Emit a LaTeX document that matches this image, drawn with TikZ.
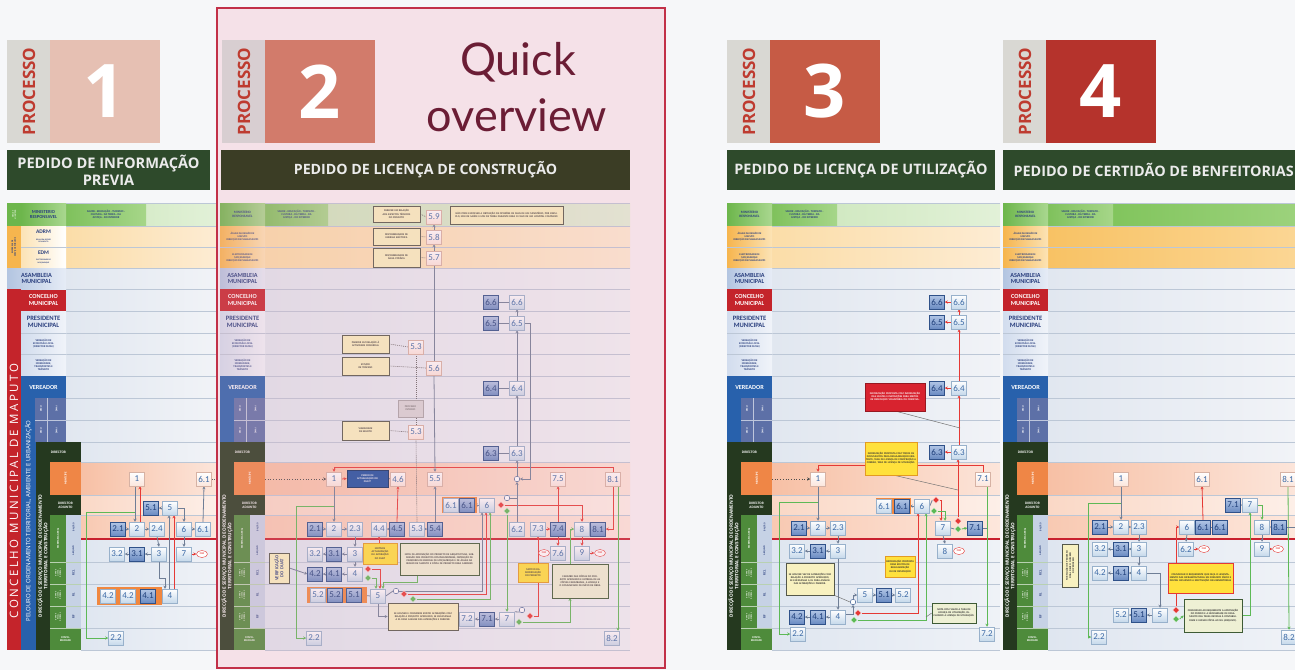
\documentclass[tikz,border=0pt]{standalone}
\usepackage{fontspec}
\setmainfont{Open Sans}
\newfontfamily\carl{Carlito}
\newfontfamily\gill{Lato}
\usetikzlibrary{calc,shapes.geometric,arrows.meta}
\pgfdeclarelayer{back}\pgfdeclarelayer{mid}\pgfsetlayers{back,mid,main}
\newcommand\fz[2]{\fontsize{#1}{#2}\selectfont}
\definecolor{bgc}{HTML}{F6F7F9}
\definecolor{procgray}{HTML}{D9D8D3}
\definecolor{procgrayB}{HTML}{D8CED1}
\definecolor{procred}{HTML}{BE3B30}
\definecolor{sqA}{HTML}{E6C0B3}
\definecolor{sqB}{HTML}{D27B6B}
\definecolor{sqC}{HTML}{C65B45}
\definecolor{sqD}{HTML}{B5332C}
\definecolor{tbar}{HTML}{2E4A2B}
\definecolor{tbarB}{HTML}{3B3D25}
\definecolor{navy}{HTML}{2A3F7E}
\definecolor{labga}{HTML}{6DB64C}
\definecolor{labgb}{HTML}{A9D78F}
\definecolor{mincella}{HTML}{7FC15C}
\definecolor{mincellb}{HTML}{A6D689}
\definecolor{minrowa}{HTML}{CBE6BA}
\definecolor{minrowb}{HTML}{E2F1D8}
\definecolor{minrowBa}{HTML}{78C052}
\definecolor{minrowBb}{HTML}{9CD27C}
\definecolor{orowa}{HTML}{FBDDA8}
\definecolor{orowb}{HTML}{FDECD3}
\definecolor{orowBa}{HTML}{F8C264}
\definecolor{orowBb}{HTML}{FBD694}
\definecolor{laboa}{HTML}{F6B54E}
\definecolor{labob}{HTML}{FCE3B5}
\definecolor{labba}{HTML}{B3C5E1}
\definecolor{labbb}{HTML}{E6ECF6}
\definecolor{labred}{HTML}{C4242B}
\definecolor{labpa}{HTML}{D2DDEE}
\definecolor{labpb}{HTML}{F0F3F9}
\definecolor{growa}{HTML}{E1E7F0}
\definecolor{growb}{HTML}{F1F3F7}
\definecolor{vblue}{HTML}{2861AC}
\definecolor{dmu}{HTML}{5D70A7}
\definecolor{dkgreen}{HTML}{25391F}
\definecolor{orng}{HTML}{EF8646}
\definecolor{mgreen}{HTML}{4E8B3B}
\definecolor{sublab}{HTML}{C6D2E5}
\definecolor{mrowa}{HTML}{F7C0A5}
\definecolor{mrowb}{HTML}{FCE5DA}
\definecolor{darowa}{HTML}{FAD8C6}
\definecolor{darowb}{HTML}{FDEFE8}
\definecolor{sgrowa}{HTML}{F8C9B2}
\definecolor{sgrowb}{HTML}{FDE7DC}
\definecolor{browa}{HTML}{DFE6F0}
\definecolor{browb}{HTML}{EFF2F7}
\definecolor{sepc}{HTML}{BCC7D6}
\definecolor{redline}{HTML}{C8202E}
\definecolor{edgeg}{HTML}{6F7E96}
\definecolor{edger}{HTML}{E53935}
\definecolor{edgegr}{HTML}{5DB956}
\definecolor{nbord}{HTML}{98B1CB}
\definecolor{nfill}{HTML}{C6D9EB}
\definecolor{ntext}{HTML}{3C6AA6}
\definecolor{ndtop}{HTML}{B2C6E6}
\definecolor{ndbot}{HTML}{6A8BC2}
\definecolor{ndbord}{HTML}{2F5189}
\definecolor{ndtext}{HTML}{1F3F7A}
\definecolor{nmfill}{HTML}{FBE6DD}
\definecolor{nmbord}{HTML}{D6B2A4}
\definecolor{yfill}{HTML}{F8F1C0}
\definecolor{ydraw}{HTML}{55584A}
\definecolor{ysfill}{HTML}{FFE13C}
\definecolor{ysdraw}{HTML}{E39B22}
\definecolor{gyfill}{HTML}{D8D4D6}
\definecolor{gydraw}{HTML}{A9A5A7}
\definecolor{blfill}{HTML}{1B4FA0}
\definecolor{nbfill}{HTML}{EEF0D4}
\definecolor{nbdraw}{HTML}{3E5B35}
\definecolor{rbfill}{HTML}{D8232F}
\definecolor{frame}{HTML}{C23048}
\definecolor{framefill}{HTML}{F9F1F4}
\definecolor{pinkt}{HTML}{E9A3B8}
\definecolor{qcol}{HTML}{6B1D35}
\definecolor{orgrp}{HTML}{F0873F}
\tikzset{
 stp/.style={draw=nbord, line width=0.5pt, top color=white, bottom color=nfill, minimum width=15pt, minimum height=14pt, inner sep=0.5pt, font=\carl\fz{9}{9}, text=ntext},
 stpd/.style={stp, top color=ndtop, bottom color=ndbot, draw=ndbord, text=ndtext},
 stpm/.style={stp, top color=white, bottom color=nmfill, draw=nmbord},
 fim/.style={ellipse, draw=edger, line width=0.4pt, fill=white, inner sep=0.2pt, minimum width=11pt, minimum height=7pt, font=\carl\bfseries\fz{2.6}{3}, text=edger},
 rdia/.style={diamond, fill=edger, draw=white, line width=0.3pt, inner sep=0pt, minimum size=7pt},
 gdia/.style={diamond, fill=edgegr, draw=white, line width=0.3pt, inner sep=0pt, minimum size=7pt},
 circ/.style={circle, draw=ndbord, line width=0.4pt, fill=white, inner sep=0pt, minimum size=5.5pt},
 gl/.style={draw=edgeg, line width=0.8pt, -{Stealth[length=3pt,width=3pt]}},
 gln/.style={draw=edgeg, line width=0.8pt},
 rl/.style={draw=edger, line width=0.8pt, -{Stealth[length=3pt,width=3pt]}},
 rln/.style={draw=edger, line width=0.8pt},
 grl/.style={draw=edgegr, line width=0.8pt, -{Stealth[length=3pt,width=3pt]}},
 dl/.style={draw=black!70, line width=0.7pt, dotted, -{Stealth[length=3pt,width=3pt]}},
 dln/.style={draw=black!60, line width=0.6pt, dash pattern=on 1pt off 1pt},
 annot/.style={draw=black!55, line width=0.5pt},
 bxs/.style={font=\carl\bfseries\fz{2.6}{3.1}, text=black!80, align=center, line width=0.6pt},
 ybox/.style={bxs, fill=yfill, draw=ydraw},
 ysbox/.style={bxs, fill=ysfill, draw=ysdraw, line width=0.9pt},
 rybox/.style={bxs, fill=ysfill, draw=edger, line width=0.9pt},
 gybox/.style={bxs, fill=gyfill, draw=gydraw, text=black!55},
 blbox/.style={bxs, fill=blfill, draw=blfill!60!black, text=white},
 nbox/.style={bxs, fill=nbfill, draw=nbdraw},
 rbox/.style={bxs, fill=rbfill, draw=rbfill!70!black, text=white},
 sepl/.style={draw=sepc, line width=0.5pt},
}
\newcommand\lb[7]{\path[#5] (#1,#2) rectangle (#3,#4);
 \node[align=center, inner sep=0pt, #6] at ({(#1+#3)/2},{(#2+#4)/2}) {#7};}
\newcommand\bx[7]{\pgfmathsetmacro\bxw{#4-#2-2}\pgfmathsetmacro\bxh{#5-#3}%
 \node[#6, text width=\bxw pt, minimum height=\bxh pt, inner sep=1pt] (#1) at ({(#2+#4)/2},{(#3+#5)/2}) {#7};}
\newcommand\proc[4]{%
 \fill[#4] (#1,40) rectangle (#1+43,143);
 \node[rotate=90,font=\bfseries\fz{17}{17},text=procred] at (#1+22,91.5) {PROCESSO};
 \fill[#3] (#1+43,40) rectangle (#1+153,143);
 \node[font=\bfseries\fz{74}{74},text=white] at (#1+98,91.5) {#2};}
\newcommand\tbar[6]{\fill[#3] (#1,150) rectangle (#2,190);
 \node[font=\bfseries\fz{#4}{#5},text=white!92!black,align=center] at ({(#1+#2)/2},170) {#6};}
\newcommand\mcell[2]{\lb{#1}{204}{#2}{225}{left color=mincella,right color=mincellb}{font=\carl\bfseries\fz{2.8}{3.3},text=navy}{SAUDE - EDUCAÇÃO - TURISMO -\\CULTURA - DA TERRA - DA\\JUSTIÇA - DO INTERIOR}}
\newcommand\plotbg[4]{%
 \ifnum#4=1
  \path[left color=minrowBa,right color=minrowBb] (#1,203) rectangle (#3,226);
  \path[left color=orowBa,right color=orowBb] (#1,226) rectangle (#3,268);
 \else
  \path[left color=minrowa,right color=minrowb] (#1,203) rectangle (#3,226);
  \path[left color=orowa,right color=orowb] (#1,226) rectangle (#3,268);
 \fi
 \path[left color=growa,right color=growb] (#1,268) rectangle (#3,442);
 \path[left color=growa,right color=growb] (#2,442) rectangle (#3,462);
 \path[left color=mrowa,right color=mrowb] (#2,462) rectangle (#3,495);
 \path[left color=darowa,right color=darowb] (#2,495) rectangle (#3,515);
 \path[left color=sgrowa,right color=sgrowb] (#2,515) rectangle (#3,539);
 \path[left color=browa,right color=browb] (#2,539) rectangle (#3,650);
 \foreach \yy in {203,226,247,268,289,311,333,354,376,398,420}{\draw[sepl] (#1,\yy) -- (#3,\yy);}
 \foreach \yy in {442,462,495,515,562,584,606,628,650}{\draw[sepl] (#2,\yy) -- (#3,\yy);}
 \draw[redline,line width=1.6pt] (#2-15,539) -- (#3,539);}
\newcommand\toplab[2]{%
 \ifnum#2=0
 \lb{#1}{203}{#1+45}{226}{left color=labga,right color=labgb}{font=\carl\bfseries\fz{3.4}{4},text=navy}{MINISTERIO\\RESPONSAVEL}
 \lb{#1}{226}{#1+45}{247}{left color=laboa,right color=labob}{font=\carl\bfseries\fz{2.6}{3},text=navy}{ÁGUAS DA REGIÃO DE\\MAPUTO\\DIRECÇÃO DE PLANEAMENTO}
 \lb{#1}{247}{#1+45}{268}{left color=laboa,right color=labob}{font=\carl\bfseries\fz{2.6}{3},text=navy}{ELECTRICIDADE DE\\MOÇAMBIQUE\\DIRECÇÃO DE PLANEAMENTO}
 \lb{#1}{268}{#1+45}{289}{left color=labba,right color=labbb}{font=\carl\bfseries\fz{6.2}{6.8},text=navy}{ASAMBLEIA\\MUNICIPAL}
 \draw[sepl] (#1,247) -- (#1+45,247);
 \fi
 \lb{#1}{289}{#1+45}{311}{fill=labred}{font=\carl\bfseries\fz{6.2}{6.8},text=white}{CONCELHO\\MUNICIPAL}
 \lb{#1}{311}{#1+45}{333}{left color=labpa,right color=labpb}{font=\carl\bfseries\fz{6.6}{7.2},text=navy}{PRESIDENTE\\MUNICIPAL}
 \lb{#1}{333}{#1+45}{354}{left color=labpa,right color=labpb}{font=\carl\bfseries\fz{2.7}{3.2},text=navy}{VEREAÇÃO DE\\ECONOMIA LOCAL\\(DIRECTOR DMAE)}
 \lb{#1}{354}{#1+45}{376}{left color=labpa,right color=labpb}{font=\carl\bfseries\fz{2.7}{3.2},text=navy}{VEREAÇÃO DE\\MOBILIDADE,\\TRANSPORTES E\\TRÂNSITO}
 \foreach \yy in {333,354}{\draw[sepl] (#1,\yy) -- (#1+45,\yy);}}
\newcommand\midlab[1]{%
 \lb{#1}{376}{#1+45}{398}{fill=vblue}{font=\carl\bfseries\fz{6.2}{6.8},text=white}{VEREADOR}
 \fill[vblue] (#1,398) rectangle (#1+14,442);
 \fill[dmu] (#1+14,398) rectangle (#1+45,442);
 \draw[white!60!dmu,line width=0.4pt] (#1+14,420) -- (#1+45,420) (#1+26,398) -- (#1+26,442);
 \node[rotate=90,font=\carl\bfseries\fz{2.6}{3},text=white] at (#1+20,409) {DMU};
 \node[rotate=90,font=\carl\bfseries\fz{2.6}{3},text=white] at (#1+20,431) {DMU};
 \node[rotate=90,font=\carl\bfseries\fz{2.4}{2.8},text=white] at (#1+35.5,409) {DMAI};
 \node[rotate=90,font=\carl\bfseries\fz{2.4}{2.8},text=white] at (#1+35.5,431) {DMAI};}
\newcommand\botlab[1]{%
 \lb{#1}{442}{#1+45}{462}{fill=dkgreen}{font=\carl\bfseries\fz{3.6}{4},text=white}{DIRECTOR}
 \fill[dkgreen] (#1,462) rectangle (#1+14,650);
 \node[rotate=90,align=center,font=\bfseries\fz{4.6}{5.4},text=white] at (#1+7,556) {DIRECÇÃO DE SERVIÇO MUNICIPAL DE ORDENAMENTO\\TERRITORIAL E CONSTRUÇÃO};
 \lb{#1+14}{462}{#1+45}{495}{fill=orng}{rotate=90,font=\carl\bfseries\fz{3}{3.4},text=white}{MUNÍCIPE}
 \lb{#1+14}{495}{#1+45}{515}{fill=dkgreen}{font=\carl\bfseries\fz{3.5}{4},text=white}{DIRECTOR\\ADJUNTO}
 \lb{#1+14}{515}{#1+30}{562}{fill=mgreen}{rotate=90,font=\carl\bfseries\fz{2.6}{3},text=white}{SECRETARIA GERAL}
 \lb{#1+30}{515}{#1+45}{539}{fill=sublab}{rotate=90,font=\carl\bfseries\fz{2.4}{2.8},text=navy}{BALCÃO}
 \lb{#1+30}{539}{#1+45}{562}{fill=sublab}{rotate=90,font=\carl\bfseries\fz{2.4}{2.8},text=navy}{ARQUIVO}
 \lb{#1+14}{562}{#1+30}{584}{fill=mgreen}{rotate=90,font=\carl\bfseries\fz{1.9}{2.2},text=white}{DEP. DE\\LICENC.\\DE OBRAS}
 \lb{#1+14}{584}{#1+30}{606}{fill=mgreen}{rotate=90,font=\carl\bfseries\fz{1.9}{2.2},text=white}{DEP. DE\\LICENC.\\DE OBRAS}
 \lb{#1+14}{606}{#1+30}{628}{fill=mgreen}{rotate=90,font=\carl\bfseries\fz{1.9}{2.2},text=white}{DEP. DE\\FISCAL.\\DE OBRAS}
 \lb{#1+30}{562}{#1+45}{584}{fill=sublab}{rotate=90,font=\carl\bfseries\fz{3.4}{3.8},text=navy}{RCL}
 \lb{#1+30}{584}{#1+45}{606}{fill=sublab}{rotate=90,font=\carl\bfseries\fz{3.4}{3.8},text=navy}{RL}
 \lb{#1+30}{606}{#1+45}{628}{fill=sublab}{rotate=90,font=\carl\bfseries\fz{3.4}{3.8},text=navy}{RF}
 \lb{#1+14}{628}{#1+45}{650}{fill=mgreen}{font=\carl\bfseries\fz{2.8}{3.2},text=white}{CONTA-\\BILIDADE}
 \draw[white!60!mgreen,line width=0.4pt] (#1+14,562) -- (#1+45,562) (#1+14,584) -- (#1+45,584) (#1+14,606) -- (#1+45,606) (#1+14,628) -- (#1+45,628);}
\begin{document}
\begin{tikzpicture}[x=1pt,y=-1pt]
\useasboundingbox (0,0) rectangle (1295,670);
\begin{pgfonlayer}{back}
\fill[bgc] (0,0) rectangle (1295,670);
\fill[framefill] (217,8) rectangle (665,668);
% ---------- panel 1 background ----------
\plotbg{66}{81}{216}{0}
\mcell{66}{146}
\toplab{21}{1}
\midlab{21}
\botlab{36}
\lb{7}{203}{21}{226}{fill=labga}{rotate=90,font=\carl\bfseries\fz{1.8}{2.1},text=white}{NÍVEL DE\\MINISTÉRIO}
\lb{7}{226}{21}{268}{fill=laboa}{rotate=90,font=\carl\bfseries\fz{2.3}{2.7},text=navy}{EMPRESAS DE\\SERVIÇOS PÚBLICOS}
\lb{21}{203}{66}{226}{left color=labga,right color=labgb}{font=\carl\bfseries\fz{4.6}{5.2},text=navy}{MINISTERIO\\RESPONSAVEL}
\path[left color=labob,right color=white] (21,226) rectangle (66,268);
\node[font=\carl\bfseries\fz{5.5}{6},text=navy] at (43.5,232) {ADRM};
\node[font=\carl\bfseries\fz{1.9}{2.2},text=navy,align=center] at (43.5,240.5) {ÁGUAS DA REGIÃO\\DE MAPUTO};
\node[font=\carl\bfseries\fz{5.5}{6},text=navy] at (43.5,253) {EDM};
\node[font=\carl\bfseries\fz{1.9}{2.2},text=navy,align=center] at (43.5,261.5) {ELECTRICIDADE DE\\MOÇAMBIQUE};
\draw[sepl] (21,247) -- (66,247);
\lb{7}{268}{66}{289}{left color=labba,right color=labbb}{font=\carl\bfseries\fz{6.3}{6.9},text=navy}{ASAMBLEIA\\MUNICIPAL}
\fill[labred] (7,289) rectangle (21,650);
\node[rotate=90,font={\fz{11.5}{11.5}\addfontfeature{LetterSpace=22}},text=white] at (14,491) {CONCELHO MUNICIPAL DE MAPUTO};
\fill[vblue] (21,442) rectangle (36,650);
\node[rotate=90,font=\fz{6}{6},text=white] at (28.5,521) {PELOURO DE ORDENAMENTO TERRITORIAL, AMBIENTE E URBANIZAÇÃO};
% ---------- panel 2 background ----------
\plotbg{265}{265}{630}{0}
\mcell{265}{328}
\toplab{220}{0}
\midlab{220}
\botlab{220}
% ---------- panel 3 background ----------
\plotbg{772}{772}{1000}{0}
\mcell{772}{837}
\toplab{727}{0}
\midlab{727}
\botlab{727}
% ---------- panel 4 background ----------
\plotbg{1048}{1048}{1295}{1}
\mcell{1048}{1113}
\toplab{1003}{0}
\midlab{1003}
\botlab{1003}
\end{pgfonlayer}
% ---------- headers ----------
\proc{7}{1}{sqA}{procgray}
\proc{727}{3}{sqC}{procgray}
\proc{1003}{4}{sqD}{procgray}
\tbar{7}{210}{tbar}{14.6}{17}{PEDIDO DE INFORMAÇÃO\\PREVIA}
\tbar{727}{995}{tbar}{14.4}{16}{PEDIDO DE LICENÇA DE UTILIZAÇÃO}
\fill[tbar] (1003,150) rectangle (1295,190);
\node[font=\bfseries\fz{14.4}{16},text=white!92!black,anchor=west] at (1010,170) {PEDIDO DE CERTIDÃO DE BENFEITORIAS};
% ================= PANEL 1 =================
\fill[orgrp] (97,587) rectangle (162,605);
\node[stpm] (a1) at (137,479) {1};
\node[stpm] (a61t) at (204,479) {6.1};
\node[stpd] (a51) at (151,508) {5.1};
\node[stp] (a5) at (170,508) {5};
\node[stpd] (a21) at (118,529) {2.1};
\node[stp] (a2) at (137,529) {2};
\node[stp] (a24) at (157,529) {2.4};
\node[stp] (a6) at (184,529) {6};
\node[stp] (a61) at (203,529) {6.1};
\node[stp] (a32) at (117,554) {3.2};
\node[stpd] (a31) at (137,554) {3.1};
\node[stp] (a3) at (159,554) {3};
\node[stp] (a7) at (184,554) {7};
\node[fim] (afim) at (202,554) {FIM};
\node[stp] (a42a) at (108,596) {4.2};
\node[stp] (a42) at (128,596) {4.2};
\node[stpd] (a41) at (148,596) {4.1};
\node[stp] (a4) at (170,596) {4};
\node[stp] (a22) at (116,638) {2.2};
\begin{pgfonlayer}{mid}
\draw[gl] ([xshift=-2pt]a1.south) -- ([xshift=-2pt]a2.north);
\draw[rl] ([xshift=3pt]a2.north) -- ([xshift=3pt]a1.south);
\draw[gl] (a21.east) -- (a2.west);
\draw[gl] (a2.east) -- (a24.west);
\draw[gl] (a24.south) -- (a3.north);
\draw[gl] (a3.west) -- (a31.east);
\draw[gl] (a31.west) -- (a32.east);
\draw[gl] (a3.south) -- (159,578) -| ([xshift=-5pt]a4.north);
\draw[gl] (a4.west) -- (a41.east);
\draw[gl] (a41.west) -- (a42.east);
\draw[gl] ([xshift=-1pt]a4.north) -- ([xshift=-1pt]a5.south);
\draw[rl] ([xshift=4pt]a4.north) -- ([xshift=4pt]a5.south);
\draw[gl] (a5.west) -- (a51.east);
\draw[gl] (a5.east) -| (a6.north);
\draw[gl] (a6.east) -- (a61.west);
\draw[gl] (a61.north) -- (a61t.south);
\draw[gl] (a6.south) -- (a7.north);
\draw[rl] (a7.east) -- (afim.west);
\draw[grl] (135,512) -- (86,512) |- (a22.west);
\draw[dln] (a61t.east) -- (216,479);
\end{pgfonlayer}
% ================= PANEL 2 =================
\bx{bt1}{373}{206}{420}{222}{ybox}{PARECER EM RELAÇÃO\\AOS ASPECTOS TÉCNICOS\\DO PROJECTO}
\bx{bt2}{450}{206}{563}{224}{ybox}{NÃO PODE ENVOLVER A OBTENÇÃO DE OPINIÕES DE MAIS DE UM MINISTÉRIO, POR EXEMPLO, MIN DE SAÚDE E MIN DE TERRA DURANTE PARA O CASO DE UM HOSPITAL COMPLEXO}
\bx{bt3}{373}{228}{420}{245}{ybox}{DISPONIBILIDADE DE\\ENERGIA ELÉCTRICA}
\bx{bt4}{373}{248}{420}{267}{ybox}{DISPONIBILIDADE DE\\ÁGUA POTÁVEL}
\bx{bt5}{342}{335}{389}{353}{ybox}{PARECER EM RELAÇÃO À\\ACTIVIDADE COMERCIAL}
\bx{bt6}{342}{357}{389}{375}{ybox}{ESTUDO\\DE TRÁFEGO}
\bx{bt7}{398}{400}{423}{417}{gybox}{PROCESSO\\INTERNO}
\bx{bt8}{342}{421}{389}{440}{ybox}{VIABILIDADE\\DE ESGOTO}
\node[stpm] (b59) at (434,217) {5.9};
\node[stpm] (b58) at (434,237) {5.8};
\node[stpm] (b57) at (434,258) {5.7};
\node[stpd] (b66d) at (491,302) {6.6};
\node[stp] (b66) at (517,302) {6.6};
\node[stpd] (b65d) at (491,323) {6.5};
\node[stp] (b65) at (517,323) {6.5};
\node[stpm] (b53a) at (416,347) {5.3};
\node[stpm] (b56) at (434,368) {5.6};
\node[stpd] (b64d) at (491,388) {6.4};
\node[stp] (b64) at (517,388) {6.4};
\node[stpm] (b53b) at (416,432) {5.3};
\node[stpd] (b63d) at (491,453) {6.3};
\node[stp] (b63) at (517,453) {6.3};
\node[stpm] (b1) at (334,479) {1};
\bx{bbl}{347}{470}{388}{487}{blbox}{PEDIDO DE\\ACTUALIZAÇÃO DO\\DUAT?}
\node[stpm] (b46) at (398,479) {4.6};
\node[stpm] (b55) at (435,479) {5.5};
\node[circ] (bc1) at (517,479) {};
\node[stpm] (b75) at (558,479) {7.5};
\node[stpm] (b81t) at (613,479) {8.1};
\fill[orgrp] (442,497) rectangle (477,513);
\node[stp] (b61a) at (451,505) {6.1};
\node[stpd] (b61) at (467,505) {6.1};
\node[stp] (b6) at (487,505) {6};
\node[circ] (bc2) at (507,498) {};
\node[rdia] (br1) at (501,505) {};
\node[gdia] (bg1) at (507,511) {};
\node[stpd] (b21) at (315,529) {2.1};
\node[stp] (b2) at (334,529) {2};
\node[stp] (b23) at (355,529) {2.3};
\node[stp] (b44) at (379,529) {4.4};
\node[stpd] (b45) at (397,529) {4.5};
\node[stp] (b53) at (417,529) {5.3};
\node[stpd] (b54) at (435,529) {5.4};
\node[stp] (b62) at (517,529) {6.2};
\node[stp] (b73) at (538,529) {7.3};
\node[stpd] (b74) at (558,529) {7.4};
\node[stp] (b8) at (582,529) {8};
\node[stpd] (b81) at (598,529) {8.1};
\node[stp] (b32) at (315,554) {3.2};
\node[stpd] (b31) at (334,554) {3.1};
\node[stp] (b3) at (355,554) {3};
\bx{bmot}{363}{543}{397}{564}{ysbox}{MOTIVOS\\ACTUALIZAÇÃO\\OU ALTERAÇÃO\\DO DUAT}
\bx{bnota}{400}{543}{479}{575}{nbox}{NOTA DE APROVAÇÃO DO PROJECTO DE ARQUITECTURA, SUBMISSÃO DOS PROJECTOS COMPLEMENTARES, OBTENÇÃO DE PARECERES DE ENERGIA DE MOÇAMBIQUE E DE ÁGUAS DA REGIÃO DE MAPUTO E CÓPIA DE PROJECTO PARA CARIMBO}
\node[fim] (bfim1) at (544,553) {FIM};
\node[stp] (b76) at (558,553) {7.6};
\node[stp] (b9) at (582,553) {9};
\node[fim] (bfim2) at (600,553) {FIM};
\node[ybox, rotate=90, minimum width=30pt, minimum height=20pt, text width=28pt, inner sep=1pt, font=\carl\bfseries\fz{4.6}{5.2}, text=navy] (bver) at (279,568) {VERIFICAÇÃO\\DO DUAT};
\node[stpd] (b42) at (315,574) {4.2};
\node[stpd] (b41) at (334,574) {4.1};
\node[stp] (b4) at (355,574) {4};
\node[rdia] (br2) at (368,569) {};
\node[gdia] (bg2) at (368,578) {};
\bx{bmod}{518}{563}{548}{582}{ysbox}{MOTIVO DA\\MODIFICAÇÃO\\DO PROJECTO}
\bx{bcar}{552}{564}{608}{598}{nbox}{CARIMBO DAS CÓPIAS DO PROJECTO APROVADO E ENTREGA DE AS CÓPIAS CARIMBADAS, A LICENÇA E O COMUNICADO DE INÍCIO DE OBRA}
\fill[orgrp] (307,587) rectangle (367,603);
\node[stp] (b52a) at (318,595) {5.2};
\node[stpd] (b52) at (335,595) {5.2};
\node[stpd] (b51) at (354,595) {5.1};
\node[stp] (b5) at (378,596) {5};
\node[circ] (bc3) at (396,591) {};
\node[rdia] (br3) at (404,594) {};
\node[gdia] (bg3) at (413,599) {};
\bx{bse}{388}{603}{458}{630}{ybox}{SE HOUVER E CONSIDERE EXISTIR ALTERAÇÕES COM RELAÇÃO A PROJECTO APROVADO, SE ENCAMINHA A RL PARA ANÁLISE DAS ALTERAÇÕES E PARECER.}
\node[stp] (b72) at (467,619) {7.2};
\node[stpd] (b71) at (487,619) {7.1};
\node[stp] (b7) at (507,619) {7};
\node[circ] (bc4) at (522,610) {};
\node[rdia] (br4) at (530,616) {};
\node[gdia] (bg4) at (519,622) {};
\node[stp] (b22) at (314,638) {2.2};
\node[stp] (b82) at (612,638) {8.2};
\begin{pgfonlayer}{mid}
\draw[dl] (265,479) -- (b1.west);
\draw[rl] (b81t.north) -- (613,467) -| (b1.north);
\draw[rl] (b1.east) -- (bbl.west);
\draw[gl] (bbl.east) -- (b46.west);
\draw[gl] (b1.south) -- (b2.north);
\draw[grl] (334,506) -- (296,506) |- (b22.west);
\draw[gl] (b21.east) -- (b2.west);
\draw[gl] (b2.east) -- (b23.west);
\draw[gl] (b23.south) -- (b3.north);
\draw[gl] (b3.west) -- (b31.east);
\draw[gl] (b31.west) -- (b32.east);
\draw[gl] (b3.south) -- (b4.north);
\draw[gl] (b4.west) -- (b41.east);
\draw[gl] (b41.west) -- (b42.east);
\draw[gl] (bver.south) -- (b42.west);
\draw[rl] (br2.east) -| ([xshift=2pt]b5.north);
\draw[grl] (bg2.east) -| ([xshift=-2pt]b5.north);
\draw[rln] (br2.north) -- (368,564);
\draw[rl] (379,543) -- (b44.south);
\draw[gl] (b45.west) -- (b44.east);
\draw[rl] (b45.north) -- (b46.south);
\draw[gl] (b53.east) -- (b54.west);
\draw[gl] (b54.north) -- (b55.south);
\draw[gl] (b56.south) -- (b55.north);
\draw[gln] (b57.south) -- (b56.north);
\draw[gl] (b57.north) -- (b58.south);
\draw[gl] (b58.north) -- (b59.south);
\draw[dln] (bt1.east) -- (b59.west);
\draw[dln] (bt3.east) -- (b58.west);
\draw[dln] (bt4.east) -- (b57.west);
\draw[dln] (bt5.east) -- (b53a.west);
\draw[dln] (bt6.east) -- (b56.west);
\draw[dln] (bt8.east) -- (b53b.west);
\draw[dln] (b53a.south) -- (b53b.north);
\draw[dln] (b53b.south) -- (b53.north);
\draw[gl] (b5.west) -- (b51.east);
\draw[gl] (b51.west) -- (b52.east);
\draw[gl] (b52.west) -- (b52a.east);
\draw[gln] (b5.east) -- (bc3.west);
\draw[gl] (bc3.east) -| ([xshift=-5pt]b6.south);
\draw[rl] (br3.east) -| ([xshift=-1pt]b6.south);
\draw[grl] (bg3.east) -| ([xshift=3pt]b6.south);
\draw[gl] (b6.west) -- (b61.east);
\draw[gln] (b61.west) -- (b61a.east);
\draw[rl] (br1.east) -| (b8.north);
\draw[grl] (bg1.south) -- (bg1.south |- b7.north);
\draw[gln] (bc2.east) -- (517,498);
\draw[gl] (b62.north) -- (bc1.south);
\draw[gl] (bc1.north) -- (b63.south);
\draw[gl] (b63.north) -- (b64.south);
\draw[gl] (b64.north) -- (b65.south);
\draw[gl] (b65.north) -- (b66.south);
\draw[gl] (b65.east) -| (530,479) -- (bc1.east);
\draw[gln] (b66d.east) -- (b66.west);
\draw[gln] (b65d.east) -- (b65.west);
\draw[gln] (b64d.east) -- (b64.west);
\draw[gln] (b63d.east) -- (b63.west);
\draw[rl] (br4.east) -| (b73.south);
\draw[rl] (b73.east) -- (b74.west);
\draw[rl] (b74.north) -- (b75.south);
\draw[rl] (b74.south) -- (b76.north);
\draw[rl] (b76.west) -- (bfim1.east);
\draw[rl] (b8.east) -- (b81.west);
\draw[rl] (b81t.south) |- (b81.east);
\draw[grl] ([xshift=5pt]b81t.south) -- ([xshift=6pt]b82.north);
\draw[rl] (b8.south) -- (b9.north);
\draw[rl] (b9.east) -- (bfim2.west);
\draw[grl] (bg4.east) -| (570,598);
\draw[grl] (570,564) |- (b8.west);
\draw[gl] (b7.west) -- (b71.east);
\draw[gl] (b71.west) -- (b72.east);
\draw[gln] (b7.north east) -- (bc4.south west);
\draw[gl] (b5.south) |- (bse.west);
\draw[grl] (417,575) -- (417,582) -| ([xshift=5pt]b5.north);
\end{pgfonlayer}
% pink tint of panel 2, then its header in its own colours
\fill[pinkt, opacity=0.2] (217,8) rectangle (665,668);
\draw[frame, line width=1.2pt] (217,8) rectangle (665,668);
\proc{222}{2}{sqB}{procgrayB}
\tbar{221}{630}{tbarB}{14.2}{16}{PEDIDO DE LICENÇA DE CONSTRUÇÃO}
\node[anchor=base, font=\gill\fz{45}{45}, text=qcol] at (518,75) {Quick};
\node[anchor=base, font=\gill\fz{45}{45}, text=qcol] at (517,131) {overview};
% ================= PANEL 3 =================
\node[stpd] (c66d) at (937,302) {6.6};
\node[stp] (c66) at (959,302) {6.6};
\node[stpd] (c65d) at (937,322) {6.5};
\node[stp] (c65) at (959,322) {6.5};
\node[stpd] (c64d) at (937,388) {6.4};
\node[stp] (c64) at (959,388) {6.4};
\bx{crb}{865}{383}{925}{411}{rbox}{INFORMAÇÃO PROPOSTA COM INFORMAÇÃO DAS MULTAS E INSTRUÇÕES PARA EFEITOS DE DEMOLIÇÃO VOLUNTÁRIA OU COERCIVA.}
\node[stpd] (c63d) at (937,452) {6.3};
\node[stp] (c63) at (959,452) {6.3};
\bx{cyb}{865}{442}{917}{475}{ysbox}{INFORMAÇÃO PROPOSTA COM TODOS OS DOCUMENTOS PARA REGULARIZAÇÃO EXISTENTE, TAXA DE LICENÇA DE CONSTRUÇÃO A COBRAR, TAXA DE LICENÇA DE UTILIZAÇÃO.}
\node[stpm] (c1) at (818,479) {1};
\node[stpm] (c71t) at (983,479) {7.1};
\fill[orgrp] (876,498) rectangle (911,514);
\node[stp] (c61a) at (884,506) {6.1};
\node[stpd] (c61) at (902,506) {6.1};
\node[stp] (c6) at (922,506) {6};
\node[rdia] (cr1) at (936,500) {};
\node[gdia] (cg1) at (934,511) {};
\node[stpd] (c21) at (799,528) {2.1};
\node[stp] (c2) at (818,528) {2};
\node[stp] (c23) at (838,528) {2.3};
\node[stp] (c7) at (943,528) {7};
\node[rdia] (cr2) at (958,521) {};
\node[gdia] (cg2) at (958,529) {};
\node[stpd] (c71) at (975,528) {7.1};
\node[stp] (c32) at (797,551) {3.2};
\node[stpd] (c31) at (818,551) {3.1};
\node[stp] (c3) at (838,551) {3};
\node[stp] (c8) at (945,551) {8};
\node[fim] (cfim) at (959,551) {FIM};
\bx{cyb2}{885}{556}{915}{577}{ysbox}{INFORMAÇÃO PROPOSTA PARA EFEITOS DE REGULARIZAÇÃO OU DE DEMOLIÇÃO}
\bx{cse}{786}{563}{834}{595}{ybox}{SE HOUVER VEZ DE ALTERAÇÕES COM RELAÇÃO A PROJECTO APROVADO, SE ENCAMINHA A RL PARA ANÁLISE DAS ALTERAÇÕES E PARECER.}
\node[circ] (cc1) at (853,602) {};
\node[stp] (c5) at (865,595) {5};
\node[stpd] (c51) at (884,595) {5.1};
\node[stp] (c52) at (903,595) {5.2};
\node[stpd] (c42) at (797,617) {4.2};
\node[stpd] (c41) at (818,617) {4.1};
\node[stp] (c4) at (838,617) {4};
\node[rdia] (cr3) at (858,613) {};
\node[gdia] (cg3) at (854,620) {};
\bx{cnota}{932}{603}{976}{623}{nbox}{NOTA COM VALOR A TAXA DE LICENÇA DE UTILIZAÇÃO, INCLUINDO A LICENÇA DE UTILIZAÇÃO.}
\node[stp] (c22) at (798,634) {2.2};
\node[stp] (c72) at (987,634) {7.2};
\begin{pgfonlayer}{mid}
\draw[dl] (772,479) -- (c1.west);
\draw[rl] (c71t.north) -- (983,465) -| (c1.north);
\draw[gl] (c1.south) -- (c2.north);
\draw[grl] (818,502) -- (779,502) |- (c22.west);
\draw[gl] (c21.east) -- (c2.west);
\draw[gl] (c2.east) -- (c23.west);
\draw[gl] (c23.south) -- (c3.north);
\draw[gl] (c3.west) -- (c31.east);
\draw[gl] (c31.west) -- (c32.east);
\draw[gl] (c3.south) -- (c4.north);
\draw[gl] (c4.west) -- (c41.east);
\draw[gl] (c41.west) -- (c42.east);
\draw[gl] ([yshift=3pt]c4.east) -| (cc1.south);
\draw[gl] (cc1.north) |- (c5.west);
\draw[gl] (c5.east) -- (c51.west);
\draw[gl] (c51.east) -- (c52.west);
\draw[rl] (cr3.east) -| ([xshift=-4pt]c6.south);
\draw[grl] (cg3.east) -| ([xshift=4pt]c6.south);
\draw[gl] (c6.west) -- (c61.east);
\draw[gln] (c61.west) -- (c61a.east);
\draw[gln] (c6.east) -- (cr1.west);
\draw[rl] (cr1.east) -| ([xshift=-2pt]c7.north);
\draw[grl] (cg1.east) -| ([xshift=2pt]c7.north);
\draw[gln] (c7.east) -- (cg2.west);
\draw[grl] (cg2.east) -- (c71.west);
\draw[rl] (cr2.north) -- (cr2.north |- c63.south);
\draw[rl] (c63.north) -- (c64.south);
\draw[rl] (c64.north) -- (c65.south);
\draw[rl] (c65.north) -- (c66.south);
\draw[rl] (c66.west) -- (c66d.east);
\draw[rl] (c65.west) -- (c65d.east);
\draw[rl] (c64.west) -- (c64d.east);
\draw[rl] (c63.west) -- (c63d.east);
\draw[gl] (c7.south) -- (c8.north);
\draw[rl] (c8.east) -- (cfim.west);
\draw[grl] ([xshift=4pt]c71t.south) -- (c72.north);
\draw[gln] (c71.east) -- (987,528);
\draw[annot] (895,411) -- (960,428);
\draw[annot] (893,475) -- (958,490);
\draw[annot] (cse.south east) -- (cc1.west);
\draw[annot] (cnota.west) -- (926,617);
\end{pgfonlayer}
% ================= PANEL 4 =================
\node[stpm] (d1) at (1121,479) {1};
\node[stpm] (d61t) at (1202,479) {6.1};
\node[stpm] (d81t) at (1288,479) {8.1};
\node[stpd] (d71) at (1233,505) {7.1};
\node[stp] (d7) at (1250,505) {7};
\node[stpd] (d21) at (1100,527) {2.1};
\node[stp] (d2) at (1121,527) {2};
\node[stp] (d23) at (1139,527) {2.3};
\node[stp] (d6) at (1187,527) {6};
\node[stpd] (d61) at (1203,527) {6.1};
\node[stpd] (d61b) at (1220,527) {6.1};
\node[stp] (d8) at (1262,527) {8};
\node[stpd] (d81) at (1279,527) {8.1};
\node[stp] (d32) at (1100,549) {3.2};
\node[stpd] (d31) at (1121,549) {3.1};
\node[stp] (d3) at (1139,549) {3};
\node[stp] (d62) at (1186,549) {6.2};
\node[fim] (dfim1) at (1204,549) {FIM};
\node[stp] (d9) at (1262,549) {9};
\node[fim] (dfim2) at (1278,549) {FIM};
\node[ybox, rotate=90, minimum width=43pt, minimum height=16pt, text width=41pt, inner sep=1pt] (dvb) at (1070,565.5) {FORMULÁRIO E PROCESSO\\FINAL DEVE O NÚMERO\\DO PROCESSO};
\node[stp] (d42) at (1100,573) {4.2};
\node[stpd] (d41) at (1121,573) {4.1};
\node[stp] (d4) at (1139,573) {4};
\bx{dbx1}{1168}{563}{1233}{593}{rybox}{COMUNICAR O REQUERENTE QUE FAÇA O LEVANTAMENTO DAS INFRAESTRUTURAS EM FORMATO FÍSICO E DIGITAL INCLUINDO A EFECTIVAÇÃO DAS BENFEITORIAS}
\node[stp] (d52) at (1121,615) {5.2};
\node[stpd] (d51) at (1139,615) {5.1};
\node[stp] (d5) at (1160,615) {5};
\node[rdia] (dr1) at (1176,610) {};
\node[gdia] (dg1) at (1176,619) {};
\bx{dbx2}{1184}{599}{1242}{632}{nbox}{COMUNICAR AO REQUERENTE A APROVAÇÃO DO PEDIDO E A NECESSIDADE DE PAGAMENTO DAS TAXAS DEVIDAS À CONTABILIDADE E ENVIAR CÓPIA AO SIG (ARQUIVO).}
\node[stp] (d22) at (1099,637) {2.2};
\node[stp] (d82) at (1289,637) {8.2};
\begin{pgfonlayer}{mid}
\draw[gl] (d1.south) -- (d2.north);
\draw[grl] (1121,503) -- (1088,503) |- (d22.west);
\draw[gl] (d21.east) -- (d2.west);
\draw[gl] (d2.east) -- (d23.west);
\draw[gl] (d23.south) -- (d3.north);
\draw[gl] (d3.west) -- (d31.east);
\draw[gl] (d31.west) -- (d32.east);
\draw[gl] (d3.south) -- (d4.north);
\draw[gl] (d4.west) -- (d41.east);
\draw[gl] (d41.west) -- (d42.east);
\draw[gl] (d4.east) -| (d5.north);
\draw[gl] (d5.west) -- (d51.east);
\draw[gl] (d51.west) -- (d52.east);
\draw[rl] (dr1.north) |- (d6.west);
\draw[grl] (dg1.east) -- (dbx2.west);
\draw[grl] (dbx2.east) -| (d7.south);
\draw[gl] (d6.east) -- (d61.west);
\draw[gln] (d61.east) -- (d61b.west);
\draw[rl] (d61.north) -- (d61t.south);
\draw[gl] (d6.south) -- (d62.north);
\draw[rl] (d62.east) -- (dfim1.west);
\draw[gl] (d7.west) -- (d71.east);
\draw[grl] (d7.east) -| (d8.north);
\draw[gl] (d8.east) -- (d81.west);
\draw[gl] (d8.south) -- (d9.north);
\draw[rl] (d9.east) -- (dfim2.west);
\draw[grl] (d81t.south) -- (d82.north);
\draw[gln] (d81.east) -- (1295,527);
\end{pgfonlayer}
\end{tikzpicture}
\end{document}
